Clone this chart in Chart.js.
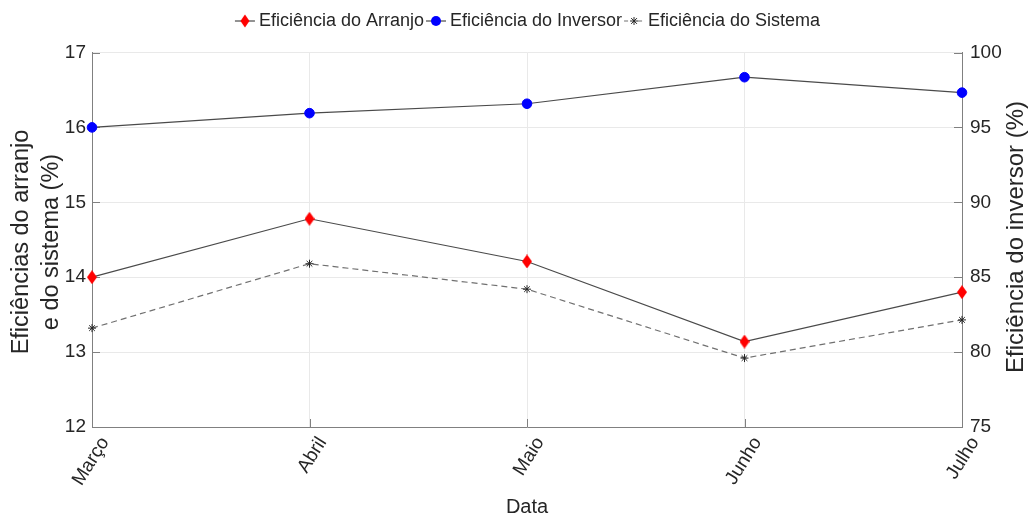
<!DOCTYPE html>
<html>
<head>
<meta charset="utf-8">
<script src="https://cdn.jsdelivr.net/npm/chart.js@4.4.1/dist/chart.umd.min.js"></script>
<style>
html,body{margin:0;padding:0;background:#ffffff;}
#wrap{width:1032px;height:518px;}
</style>
</head>
<body>
<div id="wrap"><canvas id="c" width="1032" height="518"></canvas></div>
<script>
// ---- data ----
const categories = ['Março', 'Abril', 'Maio', 'Junho', 'Julho'];
const eficienciaArranjo = [14.00, 14.78, 14.21, 13.14, 13.80];
const eficienciaInversor = [95.00, 95.95, 96.58, 98.35, 97.32];
const eficienciaSistema = [13.32, 14.18, 13.84, 12.92, 13.43];
const seriesNames = ['Eficiência do Arranjo', 'Eficiência do Inversor', 'Eficiência do Sistema'];
const leftRange = [12, 17];
const leftStep = 1;
const rightRange = [75, 100];
const rightStep = 5;
const leftTitleLines = ['Eficiências do arranjo', 'e do sistema (%)'];
const rightTitle = 'Eficiência do inversor (%)';
const xTitle = 'Data';

// ---- style ----
const FONT = "'Liberation Sans', Arial, Helvetica, sans-serif";
const TEXT = '#262626';
const AXIS = '#808080';
const GRID = '#e9e9e9';
const LINE = '#4a4a4a';
const DASH = '#707070';

function drawDiamond(g, cx, cy, w, h, color) {
  g.fillStyle = color;
  g.beginPath();
  g.moveTo(cx, cy - h / 2);
  g.lineTo(cx + w / 2, cy);
  g.lineTo(cx, cy + h / 2);
  g.lineTo(cx - w / 2, cy);
  g.closePath();
  g.fill();
}
function drawStar(g, cx, cy, r, color) {
  g.strokeStyle = color;
  g.lineWidth = 1;
  g.beginPath();
  g.moveTo(cx - r, cy); g.lineTo(cx + r, cy);
  g.moveTo(cx, cy - r); g.lineTo(cx, cy + r);
  const d = r * 0.72;
  g.moveTo(cx - d, cy - d); g.lineTo(cx + d, cy + d);
  g.moveTo(cx - d, cy + d); g.lineTo(cx + d, cy - d);
  g.stroke();
}
function makeDiamondImg() {
  const c = document.createElement('canvas');
  c.width = 10; c.height = 14;
  drawDiamond(c.getContext('2d'), 5, 7, 10, 14, '#ff0000');
  return c;
}
function makeLegendIcon(kind) {
  const c = document.createElement('canvas');
  c.width = 40; c.height = 16;
  const g = c.getContext('2d');
  const a = 12, b = 32, cy = 8, cx = 22;
  g.lineWidth = 1.2;
  if (kind === 'dash') {
    g.strokeStyle = DASH;
    g.setLineDash([4, 3]);
  } else {
    g.strokeStyle = LINE;
  }
  g.beginPath(); g.moveTo(a, cy); g.lineTo(b, cy); g.stroke();
  g.setLineDash([]);
  if (kind === 'diamond') drawDiamond(g, cx, cy, 9, 13, '#ff0000');
  if (kind === 'circle') { g.fillStyle = '#0000ff'; g.beginPath(); g.arc(cx, cy, 5, 0, Math.PI * 2); g.fill(); }
  if (kind === 'dash') { g.fillStyle = '#fff'; g.fillRect(cx - 4, cy - 4, 8, 8); drawStar(g, cx, cy, 4, TEXT); }
  return c;
}
const diamondImg = makeDiamondImg();
const legendIcons = [makeLegendIcon('diamond'), makeLegendIcon('circle'), makeLegendIcon('dash')];

// spacer box between legend and plot area
const legendGap = {
  id: 'legendGap',
  beforeInit(chart) {
    const box = {
      position: 'top', weight: 500, fullSize: true, options: {},
      width: 0, height: 0, left: 0, top: 0, right: 0, bottom: 0,
      isHorizontal() { return true; },
      update(maxWidth) { this.width = maxWidth; this.height = 12.5; },
      draw() {}
    };
    Chart.layouts.addBox(chart, box);
  }
};

const inwardTicks = {
  id: 'inwardTicks',
  beforeDatasetsDraw(chart) {
    const {ctx, chartArea: a, scales} = chart;
    const len = 8;
    ctx.save();
    ctx.strokeStyle = AXIS;
    ctx.lineWidth = 1;
    ctx.beginPath();
    scales.y.ticks.forEach((t, i) => {
      const y = Math.round(scales.y.getPixelForTick(i)) + 0.5;
      ctx.moveTo(a.left, y); ctx.lineTo(a.left + len, y);
    });
    scales.y1.ticks.forEach((t, i) => {
      const y = Math.round(scales.y1.getPixelForTick(i)) + 0.5;
      ctx.moveTo(a.right, y); ctx.lineTo(a.right - len, y);
    });
    scales.x.ticks.forEach((t, i) => {
      const x = Math.round(scales.x.getPixelForTick(i)) + 0.5;
      ctx.moveTo(x, a.bottom); ctx.lineTo(x, a.bottom - len);
    });
    ctx.stroke();
    ctx.restore();
  }
};

const axisTitles = {
  id: 'axisTitles',
  afterDraw(chart) {
    const {ctx, chartArea: a} = chart;
    ctx.save();
    ctx.fillStyle = TEXT;
    ctx.textAlign = 'center';
    ctx.textBaseline = 'middle';
    ctx.font = '23.5px ' + FONT;
    const yc = 242;
    const xs = [22, 52];
    leftTitleLines.forEach((t, i) => {
      ctx.save(); ctx.translate(xs[i], yc); ctx.rotate(-Math.PI / 2); ctx.fillText(t, 0, 0); ctx.restore();
    });
    ctx.font = '24px ' + FONT;
    ctx.save(); ctx.translate(1016, 237); ctx.rotate(-Math.PI / 2); ctx.fillText(rightTitle, 0, 0); ctx.restore();
    ctx.font = '20px ' + FONT;
    ctx.fillText(xTitle, (a.left + a.right) / 2, 507);
    ctx.restore();
  }
};

const tickFont = {family: FONT, size: 19};

new Chart(document.getElementById('c').getContext('2d'), {
  type: 'line',
  data: {
    labels: categories,
    datasets: [
      {
        label: seriesNames[0], data: eficienciaArranjo, yAxisID: 'y',
        borderColor: LINE, borderWidth: 1.2, tension: 0, clip: false,
        pointStyle: diamondImg, pointRadius: 7, pointHoverRadius: 7
      },
      {
        label: seriesNames[1], data: eficienciaInversor, yAxisID: 'y1',
        borderColor: LINE, borderWidth: 1.2, tension: 0, clip: false,
        pointStyle: 'circle', pointRadius: 4.8, pointBackgroundColor: '#0000ff',
        pointBorderColor: '#0000ff', pointBorderWidth: 1
      },
      {
        label: seriesNames[2], data: eficienciaSistema, yAxisID: 'y',
        borderColor: DASH, borderWidth: 1.2, borderDash: [6, 4], tension: 0, clip: false,
        pointStyle: 'star', pointRadius: 4, pointBorderColor: TEXT, pointBackgroundColor: TEXT,
        pointBorderWidth: 1
      }
    ]
  },
  options: {
    responsive: false,
    animation: false,
    events: [],
    layout: {padding: {top: 9, left: 24, right: 0, bottom: 0}},
    plugins: {
      tooltip: {enabled: false},
      title: {display: false},
      legend: {
        display: true, position: 'top', align: 'center',
        labels: {
          usePointStyle: true, pointStyleWidth: 14, padding: 3,
          color: TEXT, font: {family: FONT, size: 18},
          generateLabels(chart) {
            const items = Chart.defaults.plugins.legend.labels.generateLabels(chart);
            items.forEach((it, i) => { it.pointStyle = legendIcons[i]; it.fontColor = TEXT; });
            return items;
          }
        }
      }
    },
    scales: {
      x: {
        type: 'category', offset: false,
        grid: {color: GRID, drawTicks: false},
        border: {display: true, color: AXIS, width: 1},
        ticks: {color: TEXT, font: tickFont, minRotation: 58, maxRotation: 58, padding: 6, labelOffset: 13, autoSkip: false},
        afterFit(s) { s.height = 91; }
      },
      y: {
        position: 'left', min: leftRange[0], max: leftRange[1],
        grid: {color: GRID, drawTicks: false},
        border: {display: true, color: AXIS, width: 1},
        ticks: {stepSize: leftStep, color: TEXT, font: tickFont, padding: 6},
        afterFit(s) { s.width = 68; }
      },
      y1: {
        position: 'right', min: rightRange[0], max: rightRange[1],
        grid: {drawOnChartArea: false, drawTicks: false},
        border: {display: true, color: AXIS, width: 1},
        ticks: {stepSize: rightStep, color: TEXT, font: tickFont, padding: 8},
        afterFit(s) { s.width = 70; }
      }
    }
  },
  plugins: [legendGap, inwardTicks, axisTitles]
});
</script>
</body>
</html>
